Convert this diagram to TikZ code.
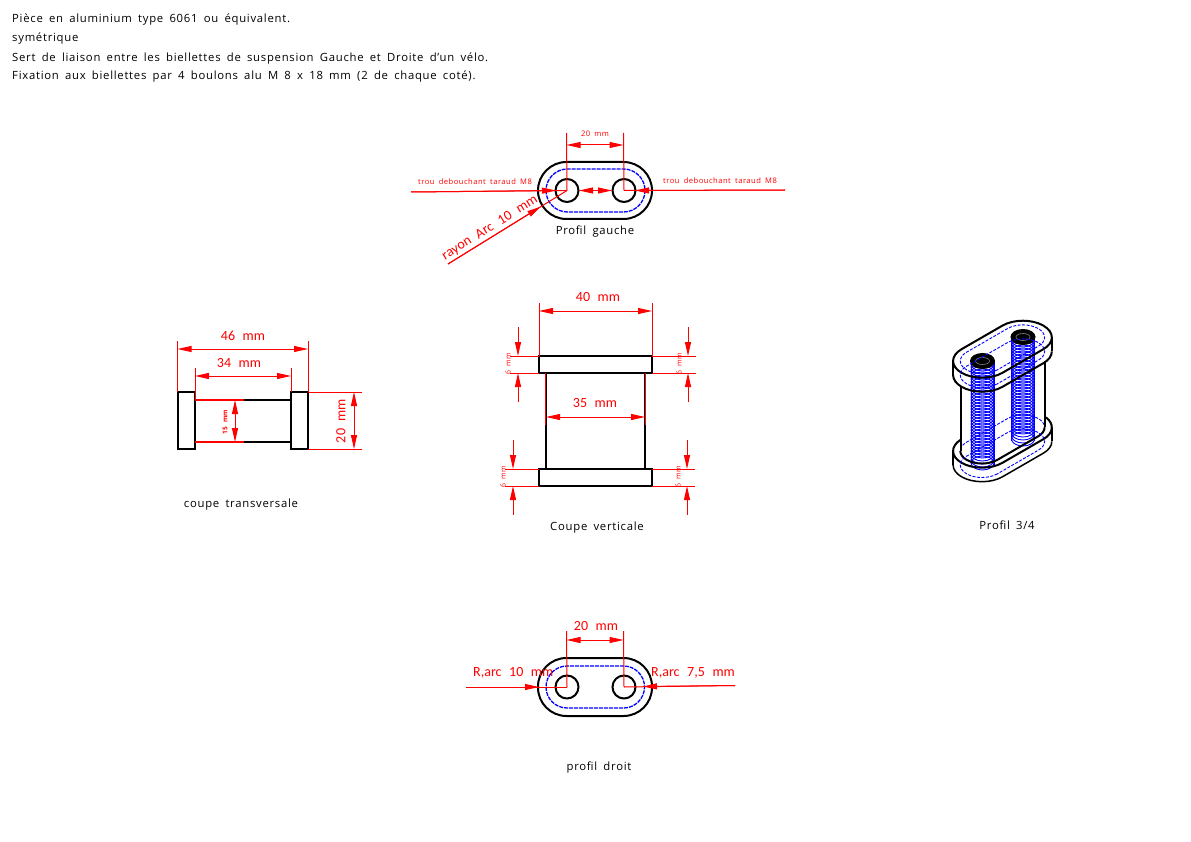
\documentclass[tikz,border=0pt]{standalone}
\usepackage{fontspec}
\setmainfont[WordSpace=1.7,LetterSpace=6.5]{Open Sans}
\newfontfamily\dimfont[WordSpace=2.4]{Carlito}
\usetikzlibrary{arrows.meta,calc,positioning}

\tikzset{
  part/.style={black, line width=2pt},
  hidden/.style={blue, line width=1.3pt, dash pattern=on 4pt off 1pt},
  isohidden/.style={blue, line width=0.9pt, dash pattern=on 3pt off 1.5pt},
  dimline/.style={red, line width=1pt, {Triangle[length=14pt,width=6pt]}-{Triangle[length=14pt,width=6pt]}},
  tipline/.style={red, line width=1pt, -{Triangle[length=14pt,width=6pt]}},
  extline/.style={red, line width=1pt},
  label/.style={black, font=\fontsize{11.3}{14}\selectfont, inner sep=0pt},
  dimtext/.style={red, font=\dimfont\fontsize{14}{15}\selectfont, inner sep=0pt},
  smalltext/.style={red, font=\fontsize{7.6}{11}\selectfont, inner sep=0pt},
  tinytext/.style={red, font=\fontsize{7}{8}\selectfont, inner sep=0pt},
  isoview/.style={cm={2.045,1.18,-2.045,1.18,#1}}
}

% stadiums of the 3/4 view, in mm on the iso plane
\newcommand{\isofull}[1]{(0,#1) arc (270:90:#1 pt) -- (20,-#1) arc (90:-90:#1 pt) -- cycle}
\newcommand{\isofront}[1]{(20,0)++(-45:#1 pt) arc (-45:-90:#1 pt) -- (0,#1) arc (270:135:#1 pt)}

\begin{document}
\begin{tikzpicture}[x=1pt, y=-1pt, >=stealth]

  \useasboundingbox (0,0) rectangle (1191,842);

  % notes
  \node[label, anchor=west] (noteA) at (12,19.5) {Pièce en aluminium type 6061 ou équivalent.};
  \node[label, anchor=west] (noteB) at (12,38.5) {symétrique};
  \node[label, anchor=west] (noteC) at (12,58.5) {Sert de liaison entre les biellettes de suspension Gauche et Droite d'un vélo.};
  \node[label, anchor=west] (noteD) at (12,76.5) {Fixation aux biellettes par 4 boulons alu M 8 x 18 mm (2 de chaque coté).};

  % profil gauche
  \coordinate (gaucheA) at (567,190.5);
  \coordinate (gaucheB) at (624,190.5);
  \draw[hidden, rounded corners=21.5pt] (546,169) rectangle (645,212);
  \draw[part, rounded corners=28.5pt] (538,162) rectangle (652,219);
  \draw[part] (gaucheA) circle (11.5pt);
  \draw[part] (gaucheB) circle (11.5pt);
  \draw[extline] (gaucheA) -- (566.5,133);
  \draw[extline] (gaucheB) -- (623.5,133);
  \draw[dimline] (566.5,145) -- (623.5,145);
  \node[smalltext] (gaucheDim) at (595,133.5) {20 mm};
  \draw[extline] (411,192) -- (gaucheA);
  \draw[tipline] (411,192) -- (556,190.5);
  \draw[extline] (785,190) -- (gaucheB);
  \draw[tipline] (785,190) -- (635,190.5);
  \draw[dimline] ($(gaucheA)+(12,0)$) -- ($(gaucheB)+(-12,0)$);
  \draw[extline] (448,264) -- (gaucheA);
  \draw[tipline] (448,264) -- (541,206.5);
  \node[smalltext, anchor=west] (trouA) at (418,181.5) {trou debouchant taraud M8};
  \node[smalltext, anchor=west] (trouB) at (663,180.5) {trou debouchant taraud M8};
  \node[dimtext, rotate=32] (rayon) at (490,228) {rayon Arc 10 mm};
  \node[label] (gaucheName) at (595,231.5) {Profil gauche};

  % coupe transversale
  \draw[part] (177.5,392) rectangle (195,449);
  \draw[part] (291,392) rectangle (308,449);
  \draw[part] (195,400) -- (291,400);
  \draw[part] (195,442) -- (291,442);
  \draw[red, line width=2pt] (195,400) -- (244,400);
  \draw[red, line width=2pt] (195,442) -- (244,442);
  \draw[extline] (177.5,392) -- (177.5,341);
  \draw[extline] (308,392) -- (308,341);
  \draw[extline] (195,400) -- (195,368);
  \draw[extline] (291,392) -- (291,368);
  \draw[extline] (308,392) -- (362,392);
  \draw[extline] (308,449) -- (362,449);
  \draw[dimline] (177.5,349) -- (308,349);
  \draw[dimline] (195,376) -- (291,376);
  \draw[dimline] (235,400) -- (235,442);
  \draw[dimline] (354,392) -- (354,449);
  \node[dimtext] (dimA) at (243,336) {46 mm};
  \node[dimtext] (dimB) at (239,363) {34 mm};
  \node[tinytext, rotate=90, font=\fontsize{6.5}{8}\selectfont\bfseries] (dimC) at (225,422) {15 mm};
  \node[dimtext, rotate=90] (dimD) at (341,421) {20 mm};
  \node[label] (transName) at (241,505) {coupe transversale};

  % coupe verticale
  \draw[part] (539,356) rectangle (652,373);
  \draw[part] (539,469) rectangle (652,486);
  \draw[part] (545.5,373) -- (545.5,469);
  \draw[part] (645,373) -- (645,469);
  \draw[extline] (545.5,373) -- (545.5,425);
  \draw[extline] (645,373) -- (645,425);
  \draw[extline] (539,356) -- (539,303);
  \draw[extline] (652,356) -- (652,303);
  \draw[dimline] (539,311) -- (652,311);
  \draw[dimline] (546,417) -- (645,417);
  \node[dimtext] (dimE) at (598,297) {40 mm};
  \node[dimtext] (dimF) at (595,403) {35 mm};
  \draw[extline] (510,356) -- (539,356);
  \draw[extline] (510,373) -- (539,373);
  \draw[extline] (652,356) -- (696,356);
  \draw[extline] (652,373) -- (696,373);
  \draw[extline] (505,469) -- (539,469);
  \draw[extline] (505,486) -- (539,486);
  \draw[extline] (652,469) -- (695,469);
  \draw[extline] (652,486) -- (695,486);
  \foreach \xx/\ya/\yb/\yc/\yd in {518/327/356/402/373, 688/327/356/402/373, 513/440/469/515/486, 687/440/469/515/486}{
    \draw[tipline] (\xx,\ya) -- (\xx,\yb);
    \draw[tipline] (\xx,\yc) -- (\xx,\yd);
  }
  \node[tinytext, rotate=90] (sixA) at (508,364) {6 mm};
  \node[tinytext, rotate=90] (sixB) at (679,364) {6 mm};
  \node[tinytext, rotate=90] (sixC) at (503,477) {6 mm};
  \node[tinytext, rotate=90] (sixD) at (678,477) {6 mm};
  \node[label] (vertName) at (597,527.5) {Coupe verticale};

  % profil droit
  \coordinate (droitA) at (567,687);
  \coordinate (droitB) at (624,687);
  \draw[hidden, rounded corners=21pt] (546,666) rectangle (644.5,708);
  \draw[part, rounded corners=28.5pt] (538,658) rectangle (652,716);
  \draw[part] (droitA) circle (11.5pt);
  \draw[part] (droitB) circle (11.5pt);
  \draw[extline] (droitA) -- (566.5,631);
  \draw[extline] (droitB) -- (623.5,631);
  \draw[dimline] (566.5,640) -- (623.5,640);
  \draw[extline] (466,687) -- (droitA);
  \draw[tipline] (466,687) -- (539,687);
  \draw[extline] (735,685.5) -- (droitB);
  \draw[tipline] (735,685.5) -- (643,686.5);
  \node[dimtext] (dimG) at (596,626) {20 mm};
  \node[dimtext, anchor=west] (arcA) at (473,673) {R,arc 10 mm};
  \node[dimtext, anchor=west] (arcB) at (651,673) {R,arc 7,5 mm};
  \node[label] (droitName) at (599,767.5) {profil droit};

  % profil 3/4, threads first
  \foreach \xx/\yy in {982.5/361, 1023/337}{
    \foreach \dd in {3,6,...,104}{
      \draw[blue, line width=0.9pt] (\xx,\yy+\dd) ellipse (11.5pt and 7pt);
    }
    \draw[blue, line width=1pt] (\xx-11.5,\yy) -- (\xx-11.5,\yy+104);
    \draw[blue, line width=1pt] (\xx+11.5,\yy) -- (\xx+11.5,\yy+104);
    \draw[black, fill=black, line width=1pt] (\xx,\yy) ellipse (12pt and 7.5pt);
    \draw[gray, line width=0.6pt] (\xx,\yy) ellipse (7pt and 3.5pt);
  }
  \begin{scope}[isoview={(982,361)}]
    \draw[isohidden] \isofull{7.5};
    \draw[part] \isofull{10};
  \end{scope}
  \begin{scope}[isoview={(982,375)}]
    \draw[isohidden] \isofull{7.5};
    \draw[part] \isofront{10};
  \end{scope}
  \begin{scope}[isoview={(982,451)}]
    \draw[isohidden] \isofull{7.5};
    \draw[part] \isofront{7.5};
    \draw[part] (20,0)++(-8:10pt) arc (-8:-90:10pt) -- (0,10) arc (270:92:10pt);
  \end{scope}
  \begin{scope}[isoview={(982,465)}]
    \draw[isohidden] \isofull{7.5};
    \draw[line width=1.5pt] \isofront{10};
  \end{scope}
  \draw[part] (953.1,361) -- (953.1,375);
  \draw[part] (1051.9,337) -- (1051.9,351);
  \draw[part] (953.1,451) -- (953.1,465);
  \draw[part] (1051.9,427) -- (1051.9,441);
  \draw[part] (961,386.5) -- (961,451);
  \draw[part] (1045,361) -- (1045,427);
  \node[label] (isoName) at (1007,525.5) {Profil 3/4};

\end{tikzpicture}
\end{document}
